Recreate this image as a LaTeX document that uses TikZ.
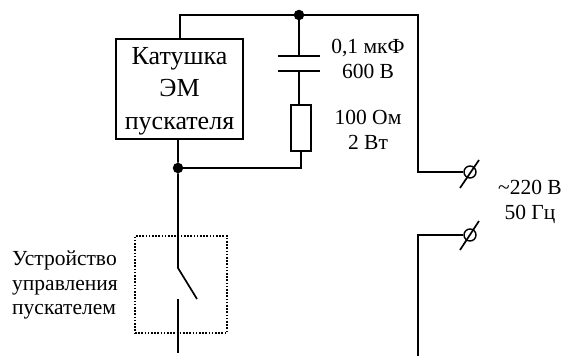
\documentclass[tikz,border=0pt]{standalone}
\usepackage{fontspec}
\setmainfont{Liberation Serif}
\usetikzlibrary{calc}
\tikzset{wire/.style={line width=1.7pt},
  dot/.style={circle,fill=black,inner sep=0pt,minimum size=10.5pt},
  coilbox/.style={draw,line width=1.5pt,minimum width=127pt,minimum height=100pt,inner sep=0pt},
  coiltxt/.style={align=center,font=\fontsize{26}{32.5}\selectfont,inner sep=0pt},
  resbox/.style={draw,line width=1.5pt,minimum width=20pt,minimum height=46pt,inner sep=0pt},
  termring/.style={circle,draw,line width=1.4pt,minimum size=12pt,inner sep=0pt},
  guardbox/.style={draw,line width=1.6pt,dash pattern=on 1.6pt off 1.6pt,minimum width=92pt,minimum height=97pt,inner sep=0pt},
  lbl/.style={align=center,font=\fontsize{21.5}{24.5}\selectfont,inner sep=0pt}}

\begin{document}
\begin{tikzpicture}[x=1pt,y=-1pt]
        \useasboundingbox (0,0) rectangle (563,356);
        % coil, filter, switch
        \node[coilbox] (coil) at (179.5,89) {};
        \node[coiltxt] (coiltext) at (179.5,91) {Катушка\\ЭМ\\пускателя};
        \node[dot] (topdot) at (299,15) {};
        \node[dot] (botdot) at (178,168) {};
        \node[resbox] (res) at (301,128) {};
        \node[guardbox] (guard) at (181,284.5) {};
        \coordinate (topleft) at (180,15);
        \coordinate (topright) at (418,15);
        \coordinate (plateA) at (299,56);
        \coordinate (plateB) at (299,71);
        \coordinate (resbot) at (301,168);
        \coordinate (hinge) at (178,268);
        \coordinate (bladeend) at (197,299);
        \coordinate (lowtop) at (178,299);
        \coordinate (lowend) at (178,353);
        % mains side
        \node[termring] (termA) at (470,172) {};
        \node[termring] (termB) at (470,235) {};
        \coordinate (rightA) at (418,172);
        \coordinate (rightB) at (418,235);
        \coordinate (rightend) at (418,356);
        \draw[wire] (coil.north -| topleft) -- (topleft) -- (topdot) -- (topright) -- (rightA) -- (termA);
        \draw[wire] (topdot) -- (plateA);
        \draw[wire] ($(plateA)-(21,0)$) -- ($(plateA)+(21,0)$);
        \draw[wire] ($(plateB)-(21,0)$) -- ($(plateB)+(21,0)$);
        \draw[wire] (plateB) -- (plateB |- res.north);
        \draw[wire] (res.south) -- (resbot) -- (botdot);
        \draw[wire] (coil.south -| botdot) -- (botdot) -- (hinge) -- (bladeend);
        \draw[wire] (lowtop) -- (lowend);
        \draw[wire] (termB) -- (rightB) -- (rightend);
        \draw[wire] ($(termA)+(-10,16)$) -- ($(termA)+(9,-12)$);
        \draw[wire] ($(termB)+(-10,15)$) -- ($(termB)+(9,-14)$);
        % labels
        \node[lbl] (capval) at (368,59) {0,1 мкФ\\600 В};
        \node[lbl] (resval) at (368,130) {100 Ом\\2 Вт};
        \node[lbl] (mains) at (530,202) {\textasciitilde 220 В\\50 Гц};
        \node[lbl,align=left] (devlbl) at (65,285) {Устройство\\управления\\пускателем};
    \end{tikzpicture}
\end{document}
